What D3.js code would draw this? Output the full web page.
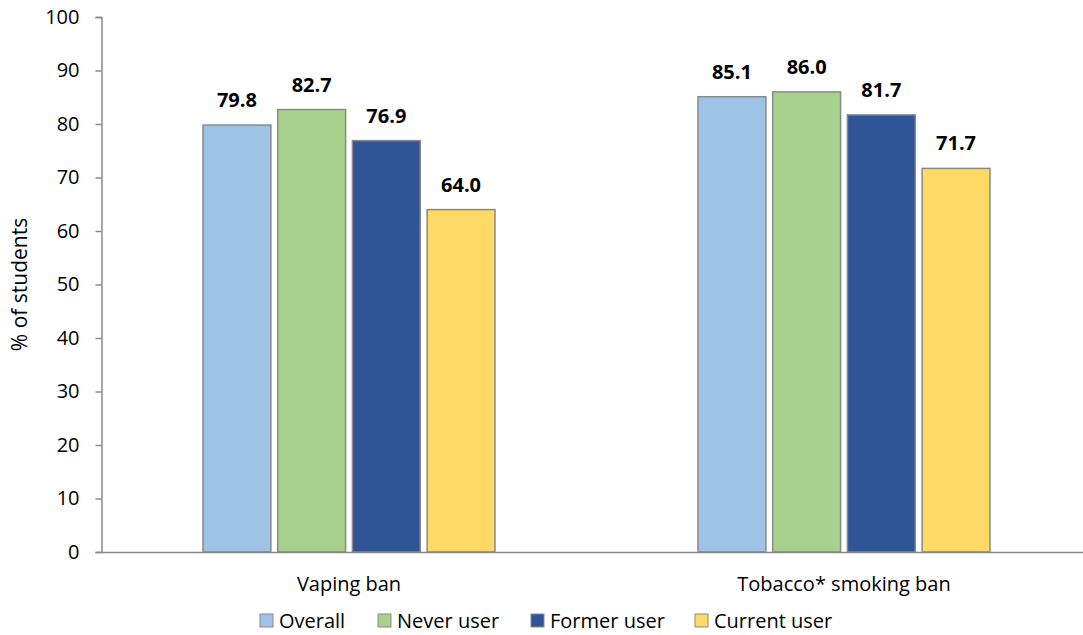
<!DOCTYPE html>
<html>
<head>
<meta charset="utf-8">
<script src="https://cdn.jsdelivr.net/npm/d3@7"></script>
<style>
  html, body { margin: 0; padding: 0; background: #fff; }
  svg { display: block; font-family: "Open Sans", "Noto Sans", sans-serif; }
</style>
</head>
<body>
<svg id="chart" width="1083" height="635"></svg>
<script>
// Share of students supporting each ban, by vaping status
const categories = ["Vaping ban", "Tobacco* smoking ban"];
const seriesNames = ["Overall", "Never user", "Former user", "Current user"];
const overall     = [79.8, 85.1];
const neverUser   = [82.7, 86.0];
const formerUser  = [76.9, 81.7];
const currentUser = [64.0, 71.7];
const yTicks = [0, 10, 20, 30, 40, 50, 60, 70, 80, 90, 100];
const colors = ["#9DC3E6", "#A9D18E", "#2F5597", "#FFD966"];

const seriesValues = [overall, neverUser, formerUser, currentUser];

const FONT = "'Open Sans', 'Noto Sans', sans-serif";
const svg = d3.select("#chart");
const plot = { left: 101.5, right: 1091.5, top: 17, bottom: 552 };
const groupWidth = 292;

const x0 = d3.scaleBand().domain(categories).range([plot.left, plot.right]).paddingInner(0).paddingOuter(0);
const x1 = d3.scaleBand().domain(seriesNames).range([0, groupWidth]).paddingInner(0.091);
const y = d3.scaleLinear().domain([0, 100]).range([plot.bottom, plot.top]);

// Y axis
const yAxis = d3.axisLeft(y).tickValues(yTicks).tickSize(6).tickPadding(16);
const gy = svg.append("g").attr("transform", `translate(${plot.left},0)`).call(yAxis);
gy.select(".domain").attr("stroke", "#898989").attr("stroke-width", 1.5);
gy.selectAll(".tick line").attr("stroke", "#898989").attr("stroke-width", 1.5);
gy.selectAll(".tick text").attr("font-size", 20).attr("fill", "#000").style("font-family", FONT);

// Y axis title
svg.append("text")
  .attr("transform", `translate(27,${(plot.top + plot.bottom) / 2}) rotate(-90)`)
  .attr("text-anchor", "middle")
  .attr("font-size", 21)
  .attr("fill", "#000")
  .text("% of students");

// Bars
const groups = svg.append("g").selectAll("g")
  .data(categories)
  .join("g")
  .attr("transform", d => `translate(${x0(d) + (x0.bandwidth() - groupWidth) / 2},0)`);

const cells = (c, ci) => seriesNames.map((s, si) => ({ s, si, v: seriesValues[si][ci] }));

groups.selectAll("rect")
  .data(cells)
  .join("rect")
  .attr("x", d => x1(d.s))
  .attr("y", d => y(d.v))
  .attr("width", x1.bandwidth())
  .attr("height", d => plot.bottom - y(d.v))
  .attr("fill", d => colors[d.si])
  .attr("stroke", "#898989")
  .attr("stroke-width", 1.5);

groups.selectAll("text.val")
  .data(cells)
  .join("text")
  .attr("class", "val")
  .attr("x", d => x1(d.s) + x1.bandwidth() / 2)
  .attr("y", d => y(d.v) - 18)
  .attr("text-anchor", "middle")
  .attr("font-size", 20)
  .attr("font-weight", "bold")
  .attr("fill", "#000")
  .text(d => d.v.toFixed(1));

// X axis
const xAxis = d3.axisBottom(x0).tickSize(0);
const gx = svg.append("g").attr("transform", `translate(0,${plot.bottom})`).call(xAxis);
gx.select(".domain").attr("stroke", "#898989").attr("stroke-width", 1.5);
gx.selectAll(".tick text").attr("font-size", 20).attr("fill", "#000")
  .attr("y", 39).attr("dy", 0).style("font-family", FONT);

// Legend
const legendX = [260, 378, 531, 695];
const legend = svg.append("g").selectAll("g")
  .data(seriesNames)
  .join("g")
  .attr("transform", (d, i) => `translate(${legendX[i]},614)`);
legend.append("rect")
  .attr("width", 13).attr("height", 13)
  .attr("fill", (d, i) => colors[i])
  .attr("stroke", "#898989").attr("stroke-width", 1);
legend.append("text")
  .attr("x", 19).attr("y", 13.5)
  .attr("font-size", 20).attr("fill", "#000")
  .text(d => d);
</script>
</body>
</html>
